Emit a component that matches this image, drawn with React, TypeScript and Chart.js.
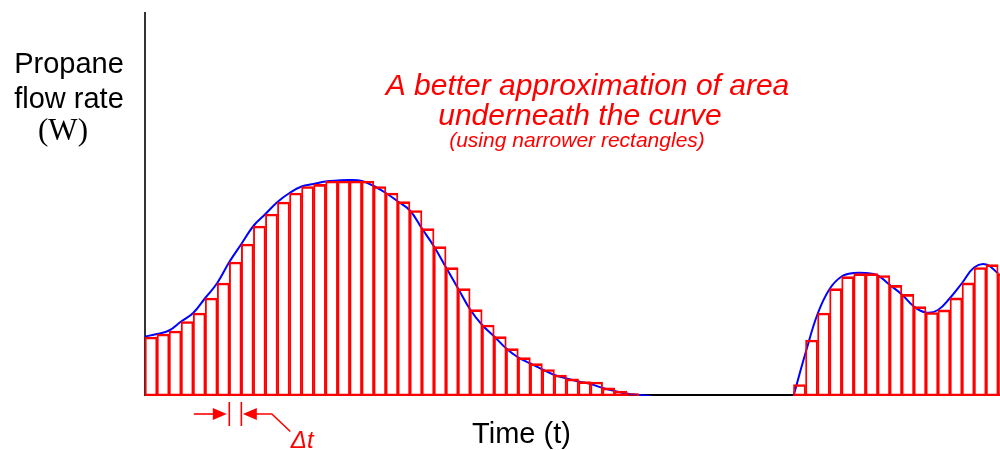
import React, { useEffect, useRef } from "react";
import { Chart, registerables } from "chart.js";

Chart.register(...registerables);

// ---- data (time in rectangle-width units, flow in arbitrary units) ----
const timeMax = 71;
const flowMax = 384;

const group1Start = 0;
const group1Heights = [
  59, 62, 65, 74.5, 83, 98, 113, 134, 152, 170,
  182, 194, 203, 209.5, 211.7, 215, 215, 215, 215, 209.5,
  203, 194.3, 185.5, 167.3, 149.3, 128.3, 107.3, 86.3, 71, 59.3,
  47.3, 38.3, 32.3, 26.5, 21, 17.2, 14.3, 14, 8.2, 5, 2.3,
];

const group2Start = 53.85;
const group2Heights = [
  11.5, 56, 83, 107.3, 119.3, 122.3, 122.3, 120.5, 110.7, 101.7,
  89.3, 83.5, 86.2, 98.2, 113.2, 128.5, 131.3, 122.3,
];

const curve1Start = 0;
const curve1Values = [
  59.5, 62, 65.5, 74.5, 83, 98, 113, 134, 152, 170,
  182, 194, 203, 209.5, 212, 214.5, 215.5, 216, 215, 210,
  203, 194.5, 185.5, 167.5, 149.5, 128.5, 107.5, 86.5, 71, 59.5,
  47.5, 38.5, 32.5, 26.5, 21, 17.5, 14.5, 12, 8, 5, 2.5, 1, 0,
];

const curve2Start = 53.85;
const curve2Values = [
  0, 43, 82, 107, 119.5, 123, 123, 120.5, 111, 101.5,
  89.5, 83.5, 86, 98, 113, 128.5, 131.5, 122.5,
];

const deltaIndex = 7;

const yLabelLines = ["Propane", "flow rate"];
const yLabelUnit = "(W)";
const xLabel = "Time (t)";
const noteLines = ["A better approximation of area", "underneath the curve"];
const noteSub = "(using narrower rectangles)";
const deltaLabel = "\u0394t";

const RED = "#ff0000";
const BLUE = "#0000ff";

const axesPlugin = {
  id: "axesLines",
  beforeDatasetsDraw(chart: any) {
    const { ctx, chartArea } = chart;
    ctx.save();
    ctx.strokeStyle = "#000000";
    ctx.lineWidth = 1.6;
    ctx.beginPath();
    ctx.moveTo(chartArea.left, chartArea.top);
    ctx.lineTo(chartArea.left, chartArea.bottom);
    ctx.stroke();
    ctx.lineWidth = 2;
    ctx.beginPath();
    ctx.moveTo(chartArea.left, chartArea.bottom - 1);
    ctx.lineTo(chartArea.right, chartArea.bottom - 1);
    ctx.stroke();
    ctx.restore();
  },
};

const annotationPlugin = {
  id: "annotations",
  afterDraw(chart: any) {
    const { ctx, chartArea } = chart;
    const xs = chart.scales.x;
    ctx.save();
    // y-axis label
    ctx.fillStyle = "#000000";
    ctx.textAlign = "center";
    ctx.textBaseline = "alphabetic";
    ctx.font = '29px "Liberation Sans", Arial, sans-serif';
    ctx.fillText(yLabelLines[0], 69, 73);
    ctx.fillText(yLabelLines[1], 69, 108);
    ctx.font = '31px "Liberation Serif", "Times New Roman", serif';
    ctx.fillText(yLabelUnit, 63, 140);
    // x-axis label
    ctx.font = '29px "Liberation Sans", Arial, sans-serif';
    ctx.fillText(xLabel, 521.5, 443);
    // red note
    ctx.fillStyle = RED;
    ctx.font = 'italic 30px "Liberation Sans", Arial, sans-serif';
    ctx.fillText(noteLines[0], 587.5, 95);
    ctx.fillText(noteLines[1], 580, 125);
    ctx.font = 'italic 21px "Liberation Sans", Arial, sans-serif';
    ctx.fillText(noteSub, 577, 147);

    // delta t marker
    const xa = xs.getPixelForValue(deltaIndex);
    const xb = xs.getPixelForValue(deltaIndex + 1);
    const base = chartArea.bottom;
    const ay = base + 18;
    ctx.strokeStyle = RED;
    ctx.lineWidth = 1.6;
    ctx.beginPath();
    ctx.moveTo(xa, base + 6);
    ctx.lineTo(xa, base + 30);
    ctx.moveTo(xb, base + 6);
    ctx.lineTo(xb, base + 30);
    ctx.stroke();
    // left arrow
    const tipL = xa - 2.5;
    ctx.beginPath();
    ctx.moveTo(tipL - 33, ay);
    ctx.lineTo(tipL - 12, ay);
    ctx.stroke();
    ctx.beginPath();
    ctx.moveTo(tipL, ay);
    ctx.lineTo(tipL - 14, ay - 6);
    ctx.lineTo(tipL - 14, ay + 6);
    ctx.closePath();
    ctx.fillStyle = RED;
    ctx.fill();
    // right arrow with leader
    const tipR = xb + 1.5;
    ctx.beginPath();
    ctx.moveTo(tipR + 12, ay);
    ctx.lineTo(tipR + 29, ay);
    ctx.lineTo(tipR + 47.5, ay + 17.5);
    ctx.stroke();
    ctx.beginPath();
    ctx.moveTo(tipR, ay);
    ctx.lineTo(tipR + 14, ay - 6);
    ctx.lineTo(tipR + 14, ay + 6);
    ctx.closePath();
    ctx.fill();
    ctx.textAlign = "left";
    ctx.font = 'italic 24px "Liberation Sans", Arial, sans-serif';
    ctx.fillText(deltaLabel, tipR + 48, 448);
    ctx.restore();
  },
};

export default function App() {
  const ref = useRef<HTMLCanvasElement>(null);

  useEffect(() => {
    document.body.style.margin = "0";
    const bars = [
      ...group1Heights.map((h, i) => ({ x: group1Start + i + 0.5, y: h })),
      ...group2Heights.map((h, i) => ({ x: group2Start + i + 0.5, y: h })),
    ];
    const curve1 = curve1Values.map((v, i) => ({ x: curve1Start + i, y: v }));
    const curve2 = curve2Values.map((v, i) => ({ x: curve2Start + i, y: v }));

    const chart = new Chart(ref.current as HTMLCanvasElement, {
      type: "bar",
      data: {
        datasets: [
          {
            type: "bar",
            data: bars as any,
            backgroundColor: "rgba(0,0,0,0)",
            borderColor: RED,
            borderWidth: { top: 2, left: 1.25, right: 1.25, bottom: 2 } as any,
            borderSkipped: false,
            barPercentage: 1,
            categoryPercentage: 1,
            order: 0,
          } as any,
          {
            type: "line",
            data: curve1 as any,
            borderColor: BLUE,
            borderWidth: 2,
            pointRadius: 0,
            tension: 0.4,
            fill: false,
            order: 1,
          } as any,
          {
            type: "line",
            data: curve2 as any,
            borderColor: BLUE,
            borderWidth: 2,
            pointRadius: 0,
            tension: 0.4,
            fill: false,
            order: 1,
          } as any,
        ],
      },
      options: {
        animation: false,
        responsive: false,
        maintainAspectRatio: false,
        events: [],
        layout: { padding: { left: 145, right: 0, top: 12, bottom: 54 } },
        scales: {
          x: { type: "linear", min: 0, max: timeMax, display: false, offset: false, ticks: { stepSize: 10 } },
          y: { type: "linear", min: 0, max: flowMax, display: false },
        },
        plugins: {
          legend: { display: false },
          tooltip: { enabled: false },
        },
      } as any,
      plugins: [axesPlugin, annotationPlugin],
    });
    return () => chart.destroy();
  }, []);

  return (
    <canvas
      ref={ref}
      width={1000}
      height={450}
      style={{ display: "block", width: 1000, height: 450 }}
    />
  );
}
